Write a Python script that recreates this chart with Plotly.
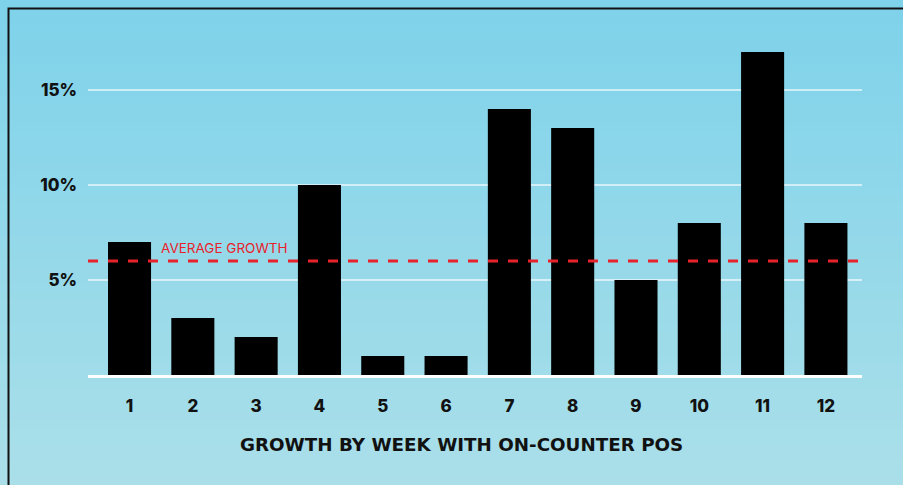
import plotly.graph_objects as go

weeks = [1, 2, 3, 4, 5, 6, 7, 8, 9, 10, 11, 12]
growth = [7, 3, 2, 10, 1, 1, 14, 13, 5, 8, 17, 8]
average_growth = 6
y_tick_vals = [5, 10, 15]
y_tick_text = ["5%", "10%", "15%"]
x_title = "GROWTH BY WEEK WITH ON-COUNTER POS"
avg_label = "AVERAGE GROWTH"

W, H = 903, 485
ML, MR, MT, MB = 88, 41, 20, 110
PW, PH = W - ML - MR, H - MT - MB

def px_x(px):
    return (px - ML) / PW

def px_y(py):
    return (H - MB - py) / PH

fig = go.Figure()
fig.add_trace(go.Bar(x=weeks, y=growth, marker=dict(color="#000000", line=dict(width=0)),
                     width=0.68, hoverinfo="skip"))

shapes = []
# gradient background
top = (126, 210, 234)
bot = (170, 223, 233)
n = 60
for i in range(n):
    t = i / (n - 1)
    c = tuple(round(top[k] + (bot[k] - top[k]) * t) for k in range(3))
    y0 = i * H / n
    y1 = (i + 1) * H / n + 1
    shapes.append(dict(type="rect", xref="paper", yref="paper", layer="below",
                       x0=px_x(-2), x1=px_x(W + 2), y0=px_y(y1), y1=px_y(y0),
                       fillcolor="rgb(%d,%d,%d)" % c, line=dict(width=0)))
# border
shapes.append(dict(type="rect", xref="paper", yref="paper", layer="below",
                   x0=px_x(8.5), x1=px_x(W + 20), y0=px_y(H + 20), y1=px_y(8.5),
                   fillcolor="rgba(0,0,0,0)", line=dict(color="#111111", width=2)))
# average line
shapes.append(dict(type="line", xref="paper", yref="y", layer="above",
                   x0=0, x1=1, y0=average_growth, y1=average_growth,
                   line=dict(color="#e8222b", width=3, dash="10px,10px")))

tick_font = dict(size=17, family="Inter", weight=800, color="#111111")

fig.update_layout(
    width=W, height=H,
    margin=dict(l=ML, r=MR, t=MT, b=MB),
    paper_bgcolor="#94d8e9",
    plot_bgcolor="rgba(0,0,0,0)",
    showlegend=False,
    shapes=shapes,
    font=dict(family="Inter", color="#111111"),
    xaxis=dict(range=[0.344, 12.57], tickvals=weeks, ticktext=[str(w) for w in weeks],
               showgrid=False, zeroline=False, showline=True, linecolor="#ffffff", linewidth=3,
               tickfont=tick_font, ticks="", ticklabelstandoff=14),
    yaxis=dict(range=[0, 355 / 19], tickvals=y_tick_vals, ticktext=y_tick_text,
               showgrid=True, gridcolor="rgba(255,255,255,0.6)", gridwidth=2,
               zeroline=False, showline=False,
               tickfont=tick_font, ticks="", ticklabelstandoff=10),
    annotations=[
        dict(text=x_title, xref="paper", yref="paper", x=px_x(461), y=px_y(444),
             xanchor="center", yanchor="middle", showarrow=False,
             font=dict(size=18.3, family="DejaVu Sans", weight=700, color="#111111")),
        dict(text=avg_label, xref="paper", yref="y", x=px_x(159), y=average_growth,
             yshift=13, xanchor="left", yanchor="middle", showarrow=False,
             font=dict(size=13.5, family="Inter", color="#e8222b")),
    ],
)

fig.write_html("out.html", config={"displayModeBar": False},
               post_script="document.body.style.margin='0';document.body.style.overflow='hidden';")
